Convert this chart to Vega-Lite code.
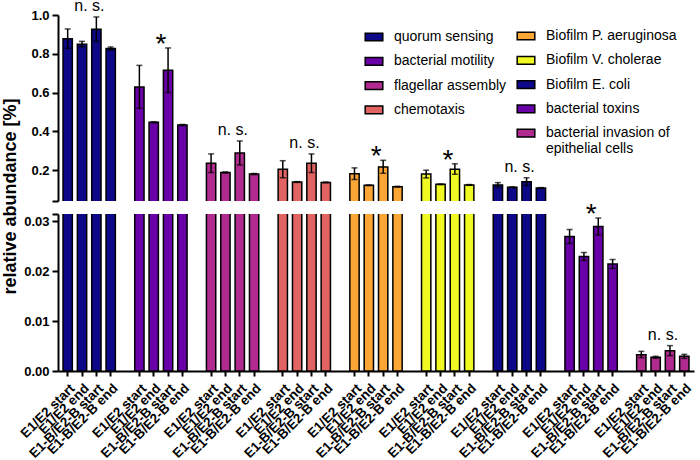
{
  "$schema": "https://vega.github.io/schema/vega-lite/v6.json",
  "padding": {"left": 1, "top": -3, "right": 2, "bottom": 2},
  "spacing": 13,
  "bounds": "flush",
  "resolve": {"scale": {"x": "shared"}},
  "config": {
    "view": {"stroke": null},
    "font": "Liberation Sans",
    "axis": {
      "domainColor": "black", "domainWidth": 2, "tickColor": "black", "tickWidth": 2,
      "labelColor": "black", "labelFont": "Liberation Sans", "labelFontWeight": "bold",
      "grid": false, "labelOverlap": false
    },
    "legend": {"padding": 0}
  },
  "datasets": {
    "bars": [
      {"g":1,"group":"quorum sensing","cond":"E1/E2 start","key":"1|E1/E2 start","mean":0.878,"lo":0.828,"hi":0.928,"sig":"n. s."},
      {"g":1,"group":"quorum sensing","cond":"E1/E2 end","key":"1|E1/E2 end","mean":0.849,"lo":0.835,"hi":0.864,"sig":"n. s."},
      {"g":1,"group":"quorum sensing","cond":"E1-B/E2-B start","key":"1|E1-B/E2-B start","mean":0.926,"lo":0.863,"hi":0.990,"sig":"n. s."},
      {"g":1,"group":"quorum sensing","cond":"E1-B/E2-B end","key":"1|E1-B/E2-B end","mean":0.827,"lo":0.819,"hi":0.835,"sig":"n. s."},
      {"g":2,"group":"bacterial motility","cond":"E1/E2 start","key":"2|E1/E2 start","mean":0.628,"lo":0.518,"hi":0.740,"sig":"*"},
      {"g":2,"group":"bacterial motility","cond":"E1/E2 end","key":"2|E1/E2 end","mean":0.446,"lo":0.443,"hi":0.449,"sig":"*"},
      {"g":2,"group":"bacterial motility","cond":"E1-B/E2-B start","key":"2|E1-B/E2-B start","mean":0.715,"lo":0.600,"hi":0.830,"sig":"*"},
      {"g":2,"group":"bacterial motility","cond":"E1-B/E2-B end","key":"2|E1-B/E2-B end","mean":0.432,"lo":0.429,"hi":0.435,"sig":"*"},
      {"g":3,"group":"flagellar assembly","cond":"E1/E2 start","key":"3|E1/E2 start","mean":0.235,"lo":0.187,"hi":0.283,"sig":"n. s."},
      {"g":3,"group":"flagellar assembly","cond":"E1/E2 end","key":"3|E1/E2 end","mean":0.187,"lo":0.184,"hi":0.190,"sig":"n. s."},
      {"g":3,"group":"flagellar assembly","cond":"E1-B/E2-B start","key":"3|E1-B/E2-B start","mean":0.288,"lo":0.226,"hi":0.350,"sig":"n. s."},
      {"g":3,"group":"flagellar assembly","cond":"E1-B/E2-B end","key":"3|E1-B/E2-B end","mean":0.179,"lo":0.176,"hi":0.182,"sig":"n. s."},
      {"g":4,"group":"chemotaxis","cond":"E1/E2 start","key":"4|E1/E2 start","mean":0.204,"lo":0.160,"hi":0.248,"sig":"n. s."},
      {"g":4,"group":"chemotaxis","cond":"E1/E2 end","key":"4|E1/E2 end","mean":0.138,"lo":0.136,"hi":0.140,"sig":"n. s."},
      {"g":4,"group":"chemotaxis","cond":"E1-B/E2-B start","key":"4|E1-B/E2-B start","mean":0.235,"lo":0.187,"hi":0.283,"sig":"n. s."},
      {"g":4,"group":"chemotaxis","cond":"E1-B/E2-B end","key":"4|E1-B/E2-B end","mean":0.136,"lo":0.134,"hi":0.138,"sig":"n. s."},
      {"g":5,"group":"Biofilm P. aeruginosa","cond":"E1/E2 start","key":"5|E1/E2 start","mean":0.181,"lo":0.151,"hi":0.211,"sig":"*"},
      {"g":5,"group":"Biofilm P. aeruginosa","cond":"E1/E2 end","key":"5|E1/E2 end","mean":0.121,"lo":0.119,"hi":0.123,"sig":"*"},
      {"g":5,"group":"Biofilm P. aeruginosa","cond":"E1-B/E2-B start","key":"5|E1-B/E2-B start","mean":0.216,"lo":0.183,"hi":0.250,"sig":"*"},
      {"g":5,"group":"Biofilm P. aeruginosa","cond":"E1-B/E2-B end","key":"5|E1-B/E2-B end","mean":0.114,"lo":0.112,"hi":0.116,"sig":"*"},
      {"g":6,"group":"Biofilm V. cholerae","cond":"E1/E2 start","key":"6|E1/E2 start","mean":0.179,"lo":0.159,"hi":0.199,"sig":"*"},
      {"g":6,"group":"Biofilm V. cholerae","cond":"E1/E2 end","key":"6|E1/E2 end","mean":0.126,"lo":0.124,"hi":0.128,"sig":"*"},
      {"g":6,"group":"Biofilm V. cholerae","cond":"E1-B/E2-B start","key":"6|E1-B/E2-B start","mean":0.204,"lo":0.178,"hi":0.232,"sig":"*"},
      {"g":6,"group":"Biofilm V. cholerae","cond":"E1-B/E2-B end","key":"6|E1-B/E2-B end","mean":0.123,"lo":0.121,"hi":0.125,"sig":"*"},
      {"g":7,"group":"Biofilm E. coli","cond":"E1/E2 start","key":"7|E1/E2 start","mean":0.123,"lo":0.111,"hi":0.135,"sig":"n. s."},
      {"g":7,"group":"Biofilm E. coli","cond":"E1/E2 end","key":"7|E1/E2 end","mean":0.111,"lo":0.109,"hi":0.113,"sig":"n. s."},
      {"g":7,"group":"Biofilm E. coli","cond":"E1-B/E2-B start","key":"7|E1-B/E2-B start","mean":0.140,"lo":0.120,"hi":0.160,"sig":"n. s."},
      {"g":7,"group":"Biofilm E. coli","cond":"E1-B/E2-B end","key":"7|E1-B/E2-B end","mean":0.107,"lo":0.105,"hi":0.109,"sig":"n. s."},
      {"g":8,"group":"bacterial toxins","cond":"E1/E2 start","key":"8|E1/E2 start","mean":0.0269,"lo":0.0255,"hi":0.0283,"sig":"*"},
      {"g":8,"group":"bacterial toxins","cond":"E1/E2 end","key":"8|E1/E2 end","mean":0.0229,"lo":0.0221,"hi":0.0237,"sig":"*"},
      {"g":8,"group":"bacterial toxins","cond":"E1-B/E2-B start","key":"8|E1-B/E2-B start","mean":0.0289,"lo":0.0272,"hi":0.0306,"sig":"*"},
      {"g":8,"group":"bacterial toxins","cond":"E1-B/E2-B end","key":"8|E1-B/E2-B end","mean":0.0214,"lo":0.0205,"hi":0.0223,"sig":"*"},
      {"g":9,"group":"bacterial invasion of epithelial cells","cond":"E1/E2 start","key":"9|E1/E2 start","mean":0.00327,"lo":0.00267,"hi":0.00393,"sig":"n. s."},
      {"g":9,"group":"bacterial invasion of epithelial cells","cond":"E1/E2 end","key":"9|E1/E2 end","mean":0.00273,"lo":0.00253,"hi":0.00293,"sig":"n. s."},
      {"g":9,"group":"bacterial invasion of epithelial cells","cond":"E1-B/E2-B start","key":"9|E1-B/E2-B start","mean":0.00407,"lo":0.00307,"hi":0.00507,"sig":"n. s."},
      {"g":9,"group":"bacterial invasion of epithelial cells","cond":"E1-B/E2-B end","key":"9|E1-B/E2-B end","mean":0.00293,"lo":0.00253,"hi":0.00333,"sig":"n. s."}
    ]
  },
  "data": {"name": "bars"},
  "vconcat": [
    {
      "width": 636,
      "height": 186,
      "encoding": {
        "x": {"field": "key", "type": "nominal", "sort": null, "axis": null,
          "scale": {"type": "band", "paddingInner": 0.35, "paddingOuter": 0.35,
            "domain": ["1|E1/E2 start","1|E1/E2 end","1|E1-B/E2-B start","1|E1-B/E2-B end","1|gap",
              "2|E1/E2 start","2|E1/E2 end","2|E1-B/E2-B start","2|E1-B/E2-B end","2|gap",
              "3|E1/E2 start","3|E1/E2 end","3|E1-B/E2-B start","3|E1-B/E2-B end","3|gap",
              "4|E1/E2 start","4|E1/E2 end","4|E1-B/E2-B start","4|E1-B/E2-B end","4|gap",
              "5|E1/E2 start","5|E1/E2 end","5|E1-B/E2-B start","5|E1-B/E2-B end","5|gap",
              "6|E1/E2 start","6|E1/E2 end","6|E1-B/E2-B start","6|E1-B/E2-B end","6|gap",
              "7|E1/E2 start","7|E1/E2 end","7|E1-B/E2-B start","7|E1-B/E2-B end","7|gap",
              "8|E1/E2 start","8|E1/E2 end","8|E1-B/E2-B start","8|E1-B/E2-B end","8|gap",
              "9|E1/E2 start","9|E1/E2 end","9|E1-B/E2-B start","9|E1-B/E2-B end"]}}
      },
      "layer": [
        {
          "transform": [{"filter": "datum.g <= 4"}],
          "mark": {"type": "bar", "clip": true, "stroke": "black", "strokeWidth": 1.5},
          "encoding": {
            "y": {"field": "mean", "type": "quantitative", "title": "relative abundance [%]",
              "scale": {"domain": [0.04, 1.0], "zero": false, "nice": false},
              "axis": {"values": [0.04, 0.2, 0.4, 0.6, 0.8, 1.0], "labelOverlap": false,
                "labelExpr": "datum.value < 0.1 ? '' : format(datum.value, '.1f')",
                "labelFontSize": 13, "tickSize": 6, "labelPadding": 3,
                "titleFontSize": 18, "titleFontWeight": "bold",
                "titleFont": "Liberation Sans", "titleColor": "black",
                "titleX": -57, "titleY": 181, "titleBaseline": "top", "titleAngle": -90, "titleAlign": "center"}},
            "y2": {"datum": 0},
            "color": {"field": "group", "type": "nominal",
              "scale": {"domain": ["quorum sensing","bacterial motility","flagellar assembly","chemotaxis"],
                "range": ["#0d0887","#6a00a8","#b12a90","#e16462"]},
              "legend": {"title": null, "orient": "none", "legendX": 306, "legendY": 12,
                "symbolType": "M-1,-0.44L1,-0.44L1,0.44L-1,0.44Z", "symbolSize": 310,
                "symbolStrokeColor": "black", "symbolStrokeWidth": 1.5, "symbolOpacity": 1,
                "labelFont": "Liberation Sans", "labelFontSize": 14, "labelColor": "black",
                "labelOffset": 10, "rowPadding": 7.3, "labelLimit": 200}}
          }
        },
        {
          "transform": [{"filter": "datum.g >= 5"}],
          "mark": {"type": "bar", "clip": true, "stroke": "black", "strokeWidth": 1.5},
          "encoding": {
            "y": {"field": "mean", "type": "quantitative", "title": "relative abundance [%]",
              "axis": {"values": [0.04, 0.2, 0.4, 0.6, 0.8, 1.0], "labelOverlap": false,
                "labelExpr": "datum.value < 0.1 ? '' : format(datum.value, '.1f')",
                "labelFontSize": 13, "tickSize": 6, "labelPadding": 3,
                "titleFontSize": 18, "titleFontWeight": "bold",
                "titleFont": "Liberation Sans", "titleColor": "black",
                "titleX": -57, "titleY": 181, "titleBaseline": "top", "titleAngle": -90, "titleAlign": "center"}},
            "y2": {"datum": 0},
            "fill": {"field": "group", "type": "nominal",
              "scale": {"domain": ["Biofilm P. aeruginosa","Biofilm V. cholerae","Biofilm E. coli","bacterial toxins","bacterial invasion of epithelial cells"],
                "range": ["#fca636","#f0f921","#0d0887","#6a00a8","#b12a90"]},
              "legend": {"title": null, "orient": "none", "legendX": 458, "legendY": 11,
                "symbolType": "M-1,-0.44L1,-0.44L1,0.44L-1,0.44Z", "symbolSize": 310,
                "symbolStrokeColor": "black", "symbolStrokeWidth": 1.5, "symbolOpacity": 1,
                "labelFont": "Liberation Sans", "labelFontSize": 14, "labelColor": "black",
                "labelOffset": 10, "rowPadding": 7.3, "labelLimit": 200,
                "labelExpr": "datum.label == 'bacterial invasion of epithelial cells' ? ['bacterial invasion of', 'epithelial cells'] : datum.label"}}
          }
        },
        {
          "transform": [{"filter": "datum.hi > 0.04"}],
          "mark": {"type": "errorbar", "color": "black", "thickness": 1.5, "ticks": {"size": 6, "thickness": 1.5, "color": "black"}},
          "encoding": {
            "y": {"field": "hi", "type": "quantitative", "title": "relative abundance [%]",
              "axis": {"values": [0.04, 0.2, 0.4, 0.6, 0.8, 1.0], "labelOverlap": false,
                "labelExpr": "datum.value < 0.1 ? '' : format(datum.value, '.1f')",
                "labelFontSize": 13, "tickSize": 6, "labelPadding": 3,
                "titleFontSize": 18, "titleFontWeight": "bold",
                "titleFont": "Liberation Sans", "titleColor": "black",
                "titleX": -57, "titleY": 181, "titleBaseline": "top", "titleAngle": -90, "titleAlign": "center"}},
            "y2": {"field": "lo"}
          }
        },
        {
          "transform": [{"filter": "datum.cond == 'E1-B/E2-B start' && datum.hi > 0.04 && datum.sig == 'n. s.'"}],
          "mark": {"type": "text", "font": "Liberation Sans", "fontSize": 16, "color": "black", "baseline": "alphabetic", "dx": -7, "dy": -6},
          "encoding": {"y": {"field": "hi", "type": "quantitative", "title": "relative abundance [%]",
              "axis": {"values": [0.04, 0.2, 0.4, 0.6, 0.8, 1.0], "labelOverlap": false,
                "labelExpr": "datum.value < 0.1 ? '' : format(datum.value, '.1f')",
                "labelFontSize": 13, "tickSize": 6, "labelPadding": 3,
                "titleFontSize": 18, "titleFontWeight": "bold",
                "titleFont": "Liberation Sans", "titleColor": "black",
                "titleX": -57, "titleY": 181, "titleBaseline": "top", "titleAngle": -90, "titleAlign": "center"}},
            "text": {"field": "sig"}}
        },
        {
          "transform": [{"filter": "datum.cond == 'E1-B/E2-B start' && datum.hi > 0.04 && datum.sig == '*'"}],
          "mark": {"type": "text", "font": "Liberation Sans", "fontSize": 28, "color": "black", "baseline": "alphabetic", "dx": -7, "dy": 5},
          "encoding": {"y": {"field": "hi", "type": "quantitative", "title": "relative abundance [%]",
              "axis": {"values": [0.04, 0.2, 0.4, 0.6, 0.8, 1.0], "labelOverlap": false,
                "labelExpr": "datum.value < 0.1 ? '' : format(datum.value, '.1f')",
                "labelFontSize": 13, "tickSize": 6, "labelPadding": 3,
                "titleFontSize": 18, "titleFontWeight": "bold",
                "titleFont": "Liberation Sans", "titleColor": "black",
                "titleX": -57, "titleY": 181, "titleBaseline": "top", "titleAngle": -90, "titleAlign": "center"}},
            "text": {"field": "sig"}}
        }
      ]
    },
    {
      "width": 636,
      "height": 157,
      "encoding": {
        "x": {"field": "key", "type": "nominal", "sort": null,
          "axis": {"title": null, "labelAngle": -45, "labelFontSize": 13.5, "tickSize": 5, "labelPadding": 5,
            "labelExpr": "split(datum.label, '|')[1]", "labelOverlap": false,
            "values": ["1|E1/E2 start","1|E1/E2 end","1|E1-B/E2-B start","1|E1-B/E2-B end",
              "2|E1/E2 start","2|E1/E2 end","2|E1-B/E2-B start","2|E1-B/E2-B end",
              "3|E1/E2 start","3|E1/E2 end","3|E1-B/E2-B start","3|E1-B/E2-B end",
              "4|E1/E2 start","4|E1/E2 end","4|E1-B/E2-B start","4|E1-B/E2-B end",
              "5|E1/E2 start","5|E1/E2 end","5|E1-B/E2-B start","5|E1-B/E2-B end",
              "6|E1/E2 start","6|E1/E2 end","6|E1-B/E2-B start","6|E1-B/E2-B end",
              "7|E1/E2 start","7|E1/E2 end","7|E1-B/E2-B start","7|E1-B/E2-B end",
              "8|E1/E2 start","8|E1/E2 end","8|E1-B/E2-B start","8|E1-B/E2-B end",
              "9|E1/E2 start","9|E1/E2 end","9|E1-B/E2-B start","9|E1-B/E2-B end"]}}
      },
      "layer": [
        {
          "transform": [{"filter": "datum.g <= 4"}],
          "mark": {"type": "bar", "clip": true, "stroke": "black", "strokeWidth": 1.5},
          "encoding": {
            "y": {"field": "mean", "type": "quantitative", "title": null,
              "scale": {"domain": [0, 0.0314], "zero": false, "nice": false},
              "axis": {"values": [0, 0.01, 0.02, 0.03, 0.0314], "labelOverlap": false,
                "labelExpr": "datum.value > 0.031 ? '' : format(datum.value, '.2f')",
                "labelFontSize": 13, "tickSize": 6, "labelPadding": 3}},
            "y2": {"datum": 0},
            "color": {"field": "group", "type": "nominal", "legend": null}
          }
        },
        {
          "transform": [{"filter": "datum.g >= 5"}],
          "mark": {"type": "bar", "clip": true, "stroke": "black", "strokeWidth": 1.5},
          "encoding": {
            "y": {"field": "mean", "type": "quantitative", "title": null,
              "axis": {"values": [0, 0.01, 0.02, 0.03, 0.0314], "labelOverlap": false,
                "labelExpr": "datum.value > 0.031 ? '' : format(datum.value, '.2f')",
                "labelFontSize": 13, "tickSize": 6, "labelPadding": 3}},
            "y2": {"datum": 0},
            "fill": {"field": "group", "type": "nominal", "legend": null}
          }
        },
        {
          "transform": [{"filter": "datum.hi < 0.0314"}],
          "mark": {"type": "errorbar", "color": "black", "thickness": 1.5, "ticks": {"size": 6, "thickness": 1.5, "color": "black"}},
          "encoding": {
            "y": {"field": "hi", "type": "quantitative", "title": null,
              "axis": {"values": [0, 0.01, 0.02, 0.03, 0.0314], "labelOverlap": false,
                "labelExpr": "datum.value > 0.031 ? '' : format(datum.value, '.2f')",
                "labelFontSize": 13, "tickSize": 6, "labelPadding": 3}},
            "y2": {"field": "lo"}
          }
        },
        {
          "transform": [{"filter": "datum.cond == 'E1-B/E2-B start' && datum.hi < 0.04 && datum.sig == 'n. s.'"}],
          "mark": {"type": "text", "font": "Liberation Sans", "fontSize": 16, "color": "black", "baseline": "alphabetic", "dx": -7, "dy": -6, "clip": false},
          "encoding": {"y": {"field": "hi", "type": "quantitative", "title": null,
              "axis": {"values": [0, 0.01, 0.02, 0.03, 0.0314], "labelOverlap": false,
                "labelExpr": "datum.value > 0.031 ? '' : format(datum.value, '.2f')",
                "labelFontSize": 13, "tickSize": 6, "labelPadding": 3}},
            "text": {"field": "sig"}}
        },
        {
          "transform": [{"filter": "datum.cond == 'E1-B/E2-B start' && datum.hi < 0.04 && datum.sig == '*'"}],
          "mark": {"type": "text", "font": "Liberation Sans", "fontSize": 28, "color": "black", "baseline": "alphabetic", "dx": -7, "dy": 5, "clip": false},
          "encoding": {"y": {"field": "hi", "type": "quantitative", "title": null,
              "axis": {"values": [0, 0.01, 0.02, 0.03, 0.0314], "labelOverlap": false,
                "labelExpr": "datum.value > 0.031 ? '' : format(datum.value, '.2f')",
                "labelFontSize": 13, "tickSize": 6, "labelPadding": 3}},
            "text": {"field": "sig"}}
        }
      ]
    }
  ]
}
